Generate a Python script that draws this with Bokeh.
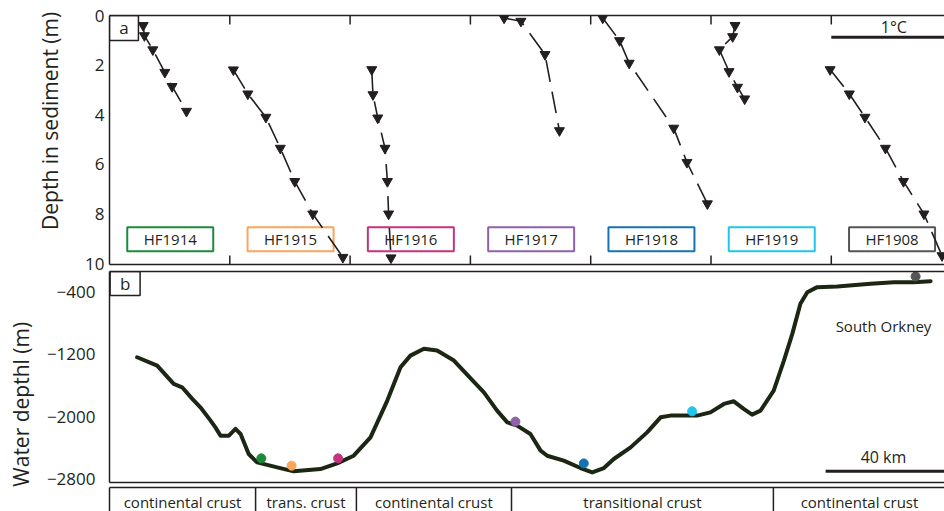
import math
from bokeh.plotting import figure
from bokeh.layouts import column
from bokeh.models import Range1d, FixedTicker, LinearAxis
from bokeh.core.properties import value
from bokeh.embed import file_html
from bokeh.resources import INLINE

FONT = "Open Sans"
INK = "#231f20"
NBSP = "\u00a0"

# ---------------- data: panel a (temperature offset in degC, depth in sediment m)
core_names = ["HF1914", "HF1915", "HF1916", "HF1917", "HF1918", "HF1919", "HF1908"]
core_colors = ["#1b8a3a", "#f9a55a", "#c4337f", "#8e62a8", "#1673b0", "#1ec6ee", "#555555"]

hf1914_temp = [0.28, 0.29, 0.36, 0.46, 0.52, 0.64]
hf1914_depth = [0.40, 0.81, 1.38, 2.29, 2.86, 3.86]
hf1915_temp = [1.03, 1.15, 1.30, 1.42, 1.54, 1.69, 1.94]
hf1915_depth = [2.19, 3.16, 4.10, 5.35, 6.69, 8.00, 9.75]
hf1916_temp = [2.18, 2.19, 2.23, 2.29, 2.31, 2.32, 2.34]
hf1916_depth = [2.18, 3.19, 4.13, 5.35, 6.69, 8.00, 9.77]
hf1917_temp = [3.28, 3.42, 3.62, 3.74]
hf1917_depth = [0.10, 0.23, 1.57, 4.64]
hf1918_temp = [4.10, 4.24, 4.32, 4.69, 4.80, 4.97]
hf1918_depth = [0.10, 1.01, 1.92, 4.54, 5.92, 7.59]
hf1919_temp = [5.20, 5.18, 5.07, 5.15, 5.22, 5.28]
hf1919_depth = [0.40, 0.85, 1.38, 2.26, 2.89, 3.36]
hf1908_temp = [5.99, 6.15, 6.28, 6.45, 6.60, 6.77, 6.92]
hf1908_depth = [2.18, 3.16, 4.10, 5.35, 6.69, 8.00, 9.68]

sed_depth_ticks = [0, 2, 4, 6, 8, 10]
temp_section_ticks = [1, 2, 3, 4, 5, 6]

# ---------------- data: panel b (distance km, water depth m)
bathy_dist_km = [9.2, 15.9, 21.4, 24.2, 27.6, 30.3, 33.7, 35.3, 37.0, 39.8,
                 42.0, 43.7, 46.4, 49.2, 55.9, 61.4, 70.3, 75.9, 81.4, 87.0,
                 92.6, 97.0, 100.3, 104.8, 109.2, 114.8, 120.3, 124.8, 129.2, 132.6,
                 135.9, 140.3, 143.7, 145.9, 151.4, 157.0, 160.9, 164.8, 168.1, 173.7,
                 179.2, 183.7, 187.0, 195.9, 200.3, 204.8, 208.1, 211.4, 214.2, 217.0,
                 221.4, 224.8, 227.6, 230.3, 232.6, 235.9, 242.6, 253.7, 261.4, 268.1,
                 273.7]
bathy_depth_m = [-1238, -1345, -1581, -1624, -1773, -1881, -2052, -2139, -2245, -2245,
                 -2159, -2224, -2481, -2589, -2653, -2704, -2674, -2602, -2503, -2267,
                 -1795, -1367, -1217, -1130, -1152, -1281, -1506, -1689, -1924, -2074,
                 -2117, -2224, -2438, -2503, -2567, -2661, -2717, -2661, -2545, -2396,
                 -2203, -2010, -1988, -1988, -1946, -1838, -1804, -1902, -1975, -1924,
                 -1667, -1281, -938, -552, -403, -338, -329, -295, -274, -274,
                 -261]
site_dist_km = [50.6, 60.7, 76.2, 135.3, 158.1, 194.2, 268.7]
site_depth_m = [-2537, -2631, -2537, -2065, -2602, -1933, -201]
water_depth_ticks = [-400, -1200, -2000, -2800]

crust_labels = ["continental crust", "trans. crust", "continental crust",
                "transitional crust", "continental crust"]
crust_edges_km = [0, 48.7, 82.3, 134.0, 221.3, 278.7]

# ---------------- layout helpers
W = 944
LEFT = 109


def make_fig(height, xr, yr, top, bottom, overlap=0):
    p = figure(width=W, height=height, x_range=xr, y_range=yr,
               x_axis_location=None, y_axis_location=None,
               output_backend="svg", toolbar_location=None,
               min_border_left=LEFT, min_border_right=0,
               min_border_top=top, min_border_bottom=bottom)
    p.grid.visible = False
    p.outline_line_color = None
    p.background_fill_color = "white"
    if overlap:
        # let this canvas slide up over the previous one, with a see-through border
        p.margin = (-overlap, 0, 0, 0)
        p.border_fill_alpha = 0
    else:
        p.border_fill_color = "white"
    return p


def frame_axis(p, loc):
    ax = LinearAxis(ticker=FixedTicker(ticks=[], minor_ticks=[]))
    ax.major_tick_in = 0
    ax.major_tick_out = 0
    ax.minor_tick_in = 0
    ax.minor_tick_out = 0
    ax.major_label_standoff = 0
    ax.axis_line_color = INK
    ax.axis_line_width = 1.5
    p.add_layout(ax, loc)
    return ax


def value_axis(p, ticks, label, standoff, label_standoff, overrides=None):
    ax = LinearAxis(ticker=FixedTicker(ticks=ticks, minor_ticks=[]), axis_label=label)
    ax.major_tick_in = 0
    ax.major_tick_out = 0
    ax.minor_tick_in = 0
    ax.minor_tick_out = 0
    ax.major_label_text_font = FONT
    ax.major_label_text_font_size = "17px"
    ax.major_label_text_color = INK
    ax.major_label_standoff = standoff
    ax.axis_label_text_font = FONT
    ax.axis_label_text_font_size = "21px"
    ax.axis_label_text_font_style = "normal"
    ax.axis_label_text_color = INK
    ax.axis_label_standoff = label_standoff
    ax.axis_line_color = INK
    ax.axis_line_width = 1.5
    if overrides:
        ax.major_label_overrides = overrides
    p.add_layout(ax, "left")
    return ax


# ---------------- panel a
a_x_end = (W - LEFT) / 120.3
pa = make_fig(279, Range1d(0, a_x_end), Range1d(10.04, 0), 15, 15)
value_axis(pa, sed_depth_ticks, NBSP * 7 + "Depth in sediment (m)", 5, 18)
frame_axis(pa, "above")
frame_axis(pa, "below")
# inward tick marks at the section boundaries (half of each dash is clipped by the frame)
for edge in (pa.y_range.start, pa.y_range.end):
    pa.scatter(x=temp_section_ticks, y=[edge] * len(temp_section_ticks), marker="dash",
               angle=math.pi / 2, size=18, line_color=INK, line_width=1.5)

label_x = [i + 0.505 for i in range(len(core_names))]
pa.rect(x=label_x, y=9.02, width=86, height=24, width_units="screen", height_units="screen",
        fill_color=None, line_color=core_colors, line_width=2)
pa.text(x=label_x, y=9.02, text=core_names, text_font=value(FONT), text_font_size="15px",
        text_align="center", text_baseline="middle", text_color=INK)

profiles = [(hf1914_temp, hf1914_depth), (hf1915_temp, hf1915_depth),
            (hf1916_temp, hf1916_depth), (hf1917_temp, hf1917_depth),
            (hf1918_temp, hf1918_depth), (hf1919_temp, hf1919_depth),
            (hf1908_temp, hf1908_depth)]
for t, d in profiles:
    pa.line(t, d, line_dash="22 10", line_width=1.6, line_color=INK)
for t, d in profiles:
    pa.scatter(t, d, marker="inverted_triangle", size=10, fill_color=INK, line_color=INK)

# panel letter and scale bar
pa.rect(x=[0.12], y=[0.5], width=29, height=25, width_units="screen", height_units="screen",
        fill_color="white", line_color=INK, line_width=1.5)
pa.text(x=[0.12], y=[0.5], text=["a"], text_font=value(FONT), text_font_size="17px",
        text_align="center", text_baseline="middle", text_color=INK)
pa.segment(x0=[6.0], y0=[0.875], x1=[7.0], y1=[0.875], line_width=3, line_color=INK)
pa.text(x=[6.52], y=[0.47], text=["1°C"], text_font=value(FONT), text_font_size="16px",
        text_align="center", text_baseline="middle", text_color=INK)

# ---------------- panel b
b_x_end = (W - LEFT) / 3.0
pb = make_fig(224, Range1d(0, b_x_end), Range1d(-2847, -137), 4, 9, overlap=12)
value_axis(pb, water_depth_ticks, "Water depthl (m)" + NBSP * 10, 14, 9,
           overrides={t: "\u2212" + str(abs(t)) for t in water_depth_ticks})
frame_axis(pb, "above")
frame_axis(pb, "below")

pb.line(bathy_dist_km, bathy_depth_m, line_width=4, line_color="#1b2712",
        line_join="round", line_cap="round")
pb.scatter(site_dist_km, site_depth_m, size=9, fill_color=core_colors, line_color=core_colors)

pb.rect(x=[5.2], y=[-291], width=30, height=24, width_units="screen", height_units="screen",
        fill_color="white", line_color=INK, line_width=1.5)
pb.text(x=[5.2], y=[-291], text=["b"], text_font=value(FONT), text_font_size="17px",
        text_align="center", text_baseline="middle", text_color=INK)
pb.text(x=[258], y=[-831], text=["South Orkney"], text_font=value(FONT), text_font_size="15px",
        text_align="center", text_baseline="middle", text_color=INK)
pb.segment(x0=[238.7], y0=[-2704], x1=[278.7], y1=[-2704], line_width=3, line_color=INK)
pb.text(x=[258], y=[-2515], text=["40 km"], text_font=value(FONT), text_font_size="16px",
        text_align="center", text_baseline="middle", text_color=INK)

# ---------------- crust bar
pc = make_fig(28, Range1d(0, b_x_end), Range1d(0, 1), 4, 0, overlap=8)
frame_axis(pc, "above")
frame_axis(pc, "left")
inner_edges = crust_edges_km[1:-1]
pc.segment(x0=inner_edges, y0=[-1] * len(inner_edges), x1=inner_edges, y1=[2] * len(inner_edges),
           line_width=1.5, line_color=INK)
crust_mid = [(a + b) / 2 for a, b in zip(crust_edges_km[:-1], crust_edges_km[1:])]
pc.text(x=crust_mid, y=0.4, text=crust_labels, text_font=value(FONT), text_font_size="15px",
        text_align="center", text_baseline="middle", text_color=INK)

layout = column(pa, pb, pc, spacing=0)
open("out.html", "w").write(file_html(layout, INLINE))
